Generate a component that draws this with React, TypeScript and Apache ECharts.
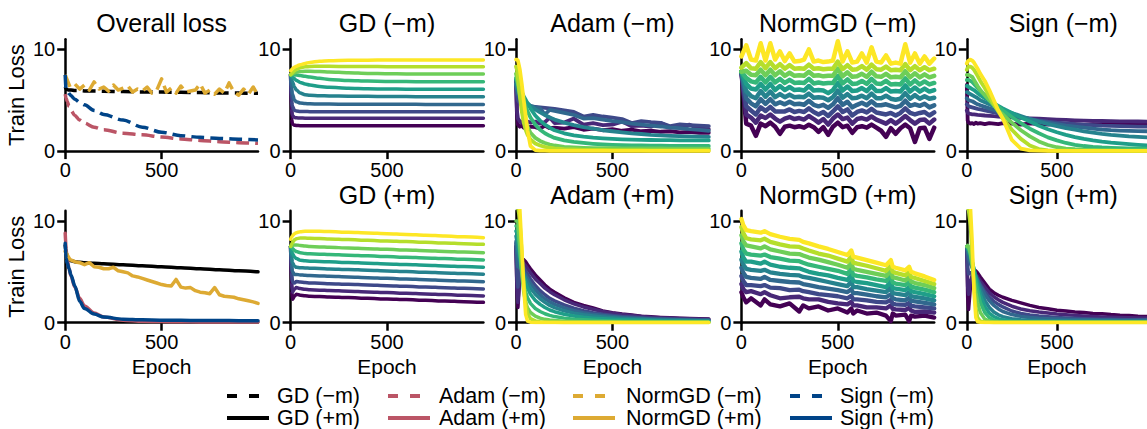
import React, { useEffect, useRef } from "react";
import * as echarts from "echarts";

const FONT = "'Liberation Sans', Arial, Helvetica, sans-serif";
const VIRIDIS = ["#440154", "#482878", "#3e4989", "#31688e", "#26828e", "#1f9e89", "#35b779", "#6ece58", "#b5de2b", "#fde725"];
const C_GD = "#000000";
const C_ADAM = "#BB5566";
const C_NORM = "#DDAA33";
const C_SIGN = "#004488";

const titlesTop = ["Overall loss", "GD (\u2212m)", "Adam (\u2212m)", "NormGD (\u2212m)", "Sign (\u2212m)"];
const titlesBottom = ["", "GD (+m)", "Adam (+m)", "NormGD (+m)", "Sign (+m)"];
const xTicks = [0, 500];
const yTicks = [0, 10];

// epoch grids
const E_S = [0, 5, 10, 20, 30, 50, 75, 100, 150, 200, 300, 400, 500, 600, 700, 800, 900, 1000];
const E_A = [0, 5, 10, 20, 30, 40, 50, 60, 75, 100, 125, 150, 175, 200, 250, 300, 350, 400, 450, 500, 550, 600, 650, 700, 750, 800, 850, 900, 950, 1000];
const E_N = [0, 25, 50, 75, 100, 125, 150, 175, 200, 225, 250, 275, 300, 325, 350, 375, 400, 425, 450, 475, 500, 525, 550, 575, 600, 625, 650, 675, 700, 725, 750, 775, 800, 825, 850, 875, 900, 925, 950, 975, 1000];
const E_P = [0, 10, 25, 50, 100, 120, 150, 200, 250, 300, 320, 350, 400, 450, 500, 550, 570, 580, 600, 650, 700, 750, 775, 785, 800, 850, 870, 880, 900, 950, 1000];

// Overall loss (-m)
const ovGdMinus = [6.3, 6.1, 6.05, 6.0, 6.0, 5.95, 5.95, 5.92, 5.9, 5.88, 5.85, 5.82, 5.8, 5.78, 5.75, 5.72, 5.7, 5.68];
const ovAdamMinus = [5.6, 5.2, 4.9, 4.4, 4.0, 3.5, 3.05, 2.75, 2.35, 2.1, 1.75, 1.6, 1.38, 1.2, 1.05, 0.93, 0.83, 0.76];
const ovSignMinus = [7.5, 6.0, 5.9, 5.65, 5.45, 5.1, 4.8, 4.55, 4.0, 3.6, 3.05, 2.35, 1.85, 1.52, 1.35, 1.25, 1.17, 1.1];
const ovNormMinus = [7.5, 6.3, 6.6, 6.1, 6.5, 6.0, 6.8, 6.1, 6.3, 5.9, 6.5, 6.0, 6.2, 6.4, 5.8, 6.1, 5.9, 6.3, 5.7, 6.0, 7.1, 5.8, 6.2, 5.7, 6.4, 5.8, 5.9, 6.0, 6.6, 5.7, 6.0, 5.6, 6.1, 5.7, 6.7, 5.8, 5.5, 6.1, 5.6, 6.3, 5.5];
// Overall loss (+m)
const ovGdPlus = [7.6, 6.9, 6.5, 6.2, 6.1, 6.0, 5.95, 5.9, 5.85, 5.8, 5.7, 5.6, 5.5, 5.4, 5.3, 5.2, 5.1, 5.0];
const ovAdamPlus = [8.8, 7.2, 6.3, 5.3, 4.6, 3.5, 2.4, 1.65, 0.95, 0.55, 0.25, 0.15, 0.11, 0.09, 0.08, 0.07, 0.07, 0.06];
const ovSignPlus = [7.8, 6.3, 5.9, 5.3, 4.7, 3.6, 2.1, 1.4, 0.85, 0.55, 0.35, 0.28, 0.25, 0.23, 0.22, 0.21, 0.2, 0.2];
const ovNormPlus = [7.0, 6.2, 6.0, 5.9, 5.7, 5.9, 5.5, 5.45, 5.3, 5.3, 5.45, 5.1, 5.0, 4.9, 4.6, 4.5, 4.35, 4.2, 4.05, 3.9, 3.75, 3.65, 3.6, 4.25, 3.5, 3.4, 3.45, 3.15, 3.0, 2.95, 2.85, 3.45, 2.75, 2.6, 2.55, 2.5, 2.35, 2.25, 2.15, 2.05, 1.9];

// GD (-m), lines purple -> yellow, on E_S
const gdMinus = [
  [7.5, 3.2, 2.65, 2.55, 2.52, 2.5, 2.5, 2.5, 2.5, 2.5, 2.5, 2.5, 2.5, 2.5, 2.49, 2.49, 2.49, 2.49],
  [7.5, 4.2, 3.5, 3.3, 3.27, 3.25, 3.24, 3.24, 3.23, 3.23, 3.23, 3.22, 3.22, 3.22, 3.22, 3.22, 3.22, 3.22],
  [7.5, 5.0, 4.4, 4.0, 3.95, 3.9, 3.9, 3.88, 3.88, 3.87, 3.87, 3.86, 3.86, 3.86, 3.86, 3.86, 3.86, 3.86],
  [7.5, 6.2, 5.6, 5.0, 4.85, 4.72, 4.68, 4.65, 4.63, 4.62, 4.61, 4.6, 4.6, 4.6, 4.59, 4.59, 4.59, 4.59],
  [7.5, 7.1, 6.8, 6.3, 6.0, 5.7, 5.55, 5.5, 5.45, 5.42, 5.4, 5.38, 5.37, 5.36, 5.35, 5.35, 5.34, 5.34],
  [7.5, 7.4, 7.3, 7.1, 6.95, 6.75, 6.6, 6.5, 6.35, 6.27, 6.18, 6.13, 6.1, 6.09, 6.08, 6.08, 6.07, 6.07],
  [7.5, 7.5, 7.5, 7.5, 7.48, 7.42, 7.35, 7.28, 7.15, 7.05, 6.95, 6.88, 6.85, 6.83, 6.82, 6.82, 6.81, 6.81],
  [7.5, 7.55, 7.6, 7.7, 7.75, 7.82, 7.85, 7.85, 7.82, 7.78, 7.7, 7.64, 7.61, 7.59, 7.58, 7.58, 7.57, 7.57],
  [7.5, 7.6, 7.7, 7.9, 8.05, 8.2, 8.28, 8.32, 8.34, 8.33, 8.32, 8.31, 8.3, 8.3, 8.29, 8.29, 8.29, 8.29],
  [7.9, 8.0, 8.1, 8.25, 8.35, 8.5, 8.62, 8.72, 8.83, 8.88, 8.92, 8.94, 8.95, 8.95, 8.95, 8.95, 8.95, 8.95],
];

// GD (+m), on E_S
const gdPlus = [
  [7.5, 3.2, 2.3, 2.6, 2.8, 2.7, 2.64, 2.6, 2.57, 2.53, 2.47, 2.4, 2.33, 2.27, 2.2, 2.13, 2.07, 2.0],
  [7.5, 4.0, 3.0, 3.3, 3.45, 3.35, 3.28, 3.23, 3.2, 3.16, 3.1, 3.03, 2.96, 2.9, 2.83, 2.76, 2.7, 2.63],
  [7.5, 5.0, 4.0, 3.9, 4.05, 4.0, 3.95, 3.91, 3.88, 3.84, 3.78, 3.71, 3.64, 3.58, 3.51, 3.44, 3.38, 3.31],
  [7.5, 5.8, 5.0, 4.75, 4.75, 4.7, 4.66, 4.63, 4.6, 4.56, 4.5, 4.43, 4.36, 4.3, 4.23, 4.16, 4.1, 4.03],
  [7.5, 6.5, 5.9, 5.55, 5.45, 5.4, 5.38, 5.36, 5.33, 5.29, 5.23, 5.16, 5.09, 5.03, 4.96, 4.89, 4.83, 4.76],
  [7.5, 7.1, 6.8, 6.45, 6.3, 6.15, 6.08, 6.05, 6.02, 5.98, 5.92, 5.85, 5.78, 5.72, 5.65, 5.58, 5.52, 5.45],
  [7.5, 7.4, 7.3, 7.1, 7.0, 6.88, 6.8, 6.77, 6.74, 6.7, 6.64, 6.57, 6.5, 6.44, 6.37, 6.3, 6.24, 6.17],
  [7.5, 7.55, 7.6, 7.65, 7.65, 7.6, 7.53, 7.48, 7.45, 7.41, 7.35, 7.28, 7.21, 7.15, 7.08, 7.01, 6.95, 6.88],
  [7.5, 7.7, 7.9, 8.15, 8.25, 8.32, 8.32, 8.3, 8.27, 8.23, 8.17, 8.1, 8.03, 7.97, 7.9, 7.83, 7.77, 7.7],
  [8.2, 8.4, 8.55, 8.75, 8.85, 8.95, 9.0, 9.0, 8.99, 8.96, 8.89, 8.82, 8.75, 8.68, 8.6, 8.52, 8.44, 8.36],
];

// Adam (-m), on E_A
const adamMinus = [
  [7.0, 3.5, 2.6, 2.4, 2.5, 2.3, 2.6, 2.3, 2.4, 2.35, 2.2, 2.5, 2.25, 2.3, 2.2, 2.35, 2.1, 2.2, 2.05, 2.15, 2.0, 2.1, 1.95, 2.0, 1.9, 1.95, 1.85, 1.88, 1.8, 1.8],
  [7.0, 4.0, 3.2, 2.9, 2.8, 3.0, 2.75, 2.9, 2.8, 2.9, 2.7, 2.85, 3.3, 2.75, 2.8, 3.2, 2.6, 2.75, 2.55, 2.6, 2.9, 2.45, 2.5, 2.4, 2.75, 2.35, 2.3, 2.6, 2.2, 2.15],
  [6.8, 5.5, 5.0, 4.7, 4.6, 4.55, 4.5, 4.45, 4.4, 4.35, 4.3, 4.25, 4.2, 4.15, 4.0, 3.85, 3.4, 3.55, 3.4, 3.3, 3.15, 2.75, 2.95, 2.85, 2.78, 2.45, 2.62, 2.55, 2.5, 2.45],
  [6.6, 6.0, 5.6, 5.2, 5.0, 4.85, 4.7, 4.6, 4.45, 4.3, 4.2, 3.6, 4.05, 3.95, 3.75, 3.55, 3.2, 3.25, 3.1, 2.95, 2.85, 2.7, 2.6, 2.5, 2.42, 2.3, 2.25, 2.15, 2.08, 2.0],
  [6.6, 6.3, 6.0, 5.6, 5.3, 5.05, 4.85, 4.7, 4.45, 4.1, 3.8, 3.55, 3.3, 3.1, 2.8, 2.55, 2.35, 2.2, 2.05, 1.95, 1.85, 1.75, 1.68, 1.6, 1.55, 1.5, 1.47, 1.44, 1.42, 1.4],
  [7.0, 6.8, 6.6, 6.2, 5.8, 5.4, 5.05, 4.7, 4.2, 3.5, 3.0, 2.6, 2.3, 2.05, 1.75, 1.55, 1.42, 1.32, 1.25, 1.2, 1.16, 1.13, 1.11, 1.09, 1.08, 1.07, 1.06, 1.06, 1.05, 1.05],
  [7.2, 7.0, 6.7, 6.1, 5.5, 4.9, 4.4, 3.9, 3.3, 2.6, 2.1, 1.75, 1.5, 1.3, 1.05, 0.9, 0.8, 0.72, 0.66, 0.62, 0.59, 0.57, 0.55, 0.54, 0.53, 0.52, 0.51, 0.5, 0.5, 0.5],
  [7.6, 7.2, 6.6, 5.5, 4.5, 3.6, 2.9, 2.4, 1.8, 1.3, 1.0, 0.8, 0.65, 0.55, 0.42, 0.36, 0.32, 0.3, 0.29, 0.28, 0.27, 0.27, 0.26, 0.26, 0.26, 0.25, 0.25, 0.25, 0.25, 0.25],
  [8.3, 8.0, 7.2, 5.4, 3.9, 2.8, 2.1, 1.6, 1.15, 0.75, 0.55, 0.42, 0.33, 0.27, 0.2, 0.16, 0.13, 0.12, 0.11, 0.1, 0.09, 0.09, 0.09, 0.08, 0.08, 0.08, 0.08, 0.08, 0.08, 0.08],
  [9.0, 9.0, 8.9, 8.0, 6.6, 5.0, 3.5, 2.0, 0.5, 0.1, 0.05, 0.04, 0.03, 0.03, 0.03, 0.02, 0.02, 0.02, 0.02, 0.02, 0.02, 0.02, 0.02, 0.02, 0.02, 0.02, 0.02, 0.02, 0.02, 0.02],
];

// Adam (+m), on E_A
const adamPlus = [
  [7.5, 3.0, 1.5, 4.5, 6.0, 6.2, 6.0, 5.7, 5.3, 4.7, 4.2, 3.7, 3.3, 3.0, 2.45, 2.0, 1.7, 1.45, 1.15, 0.98, 0.85, 0.75, 0.64, 0.58, 0.52, 0.48, 0.44, 0.41, 0.38, 0.36],
  [7.5, 3.5, 2.0, 4.8, 5.8, 5.8, 5.6, 5.3, 4.9, 4.3, 3.85, 3.4, 3.05, 2.75, 2.25, 1.85, 1.55, 1.32, 1.1, 0.93, 0.8, 0.7, 0.61, 0.54, 0.49, 0.45, 0.41, 0.38, 0.36, 0.34],
  [7.8, 5.0, 3.5, 5.0, 5.6, 5.4, 5.1, 4.8, 4.3, 3.65, 3.15, 2.75, 2.4, 2.15, 1.75, 1.42, 1.18, 0.99, 0.84, 0.72, 0.62, 0.55, 0.49, 0.44, 0.4, 0.37, 0.34, 0.32, 0.3, 0.28],
  [8.0, 6.5, 5.5, 5.4, 5.3, 5.0, 4.7, 4.35, 3.85, 3.25, 2.75, 2.35, 2.05, 1.8, 1.45, 1.18, 0.98, 0.82, 0.7, 0.6, 0.52, 0.46, 0.41, 0.37, 0.34, 0.31, 0.29, 0.27, 0.25, 0.24],
  [8.5, 8.0, 7.0, 6.0, 5.3, 4.8, 4.35, 3.95, 3.4, 2.8, 2.35, 2.0, 1.7, 1.48, 1.17, 0.94, 0.78, 0.66, 0.56, 0.48, 0.42, 0.37, 0.33, 0.3, 0.27, 0.25, 0.23, 0.21, 0.2, 0.19],
  [9.0, 8.8, 8.0, 6.5, 5.3, 4.5, 3.9, 3.4, 2.8, 2.2, 1.8, 1.5, 1.25, 1.08, 0.83, 0.66, 0.54, 0.45, 0.38, 0.33, 0.29, 0.26, 0.23, 0.21, 0.19, 0.17, 0.16, 0.15, 0.14, 0.13],
  [9.5, 9.5, 9.0, 7.0, 5.0, 3.8, 3.0, 2.45, 1.9, 1.4, 1.1, 0.88, 0.72, 0.6, 0.45, 0.35, 0.28, 0.23, 0.2, 0.17, 0.15, 0.13, 0.12, 0.11, 0.1, 0.09, 0.09, 0.08, 0.08, 0.07],
  [10.0, 10.0, 9.8, 7.5, 4.8, 3.0, 2.0, 1.45, 1.0, 0.65, 0.45, 0.33, 0.26, 0.21, 0.15, 0.11, 0.09, 0.08, 0.07, 0.06, 0.05, 0.05, 0.05, 0.04, 0.04, 0.04, 0.04, 0.04, 0.04, 0.04],
  [11.5, 11.5, 11.3, 10.0, 7.0, 4.0, 2.0, 0.9, 0.4, 0.18, 0.1, 0.07, 0.05, 0.04, 0.03, 0.03, 0.03, 0.03, 0.03, 0.03, 0.03, 0.03, 0.03, 0.03, 0.03, 0.03, 0.03, 0.03, 0.03, 0.03],
  [12.0, 12.0, 12.0, 11.2, 7.5, 3.5, 0.8, 0.15, 0.05, 0.03, 0.02, 0.02, 0.02, 0.02, 0.02, 0.02, 0.02, 0.02, 0.02, 0.02, 0.02, 0.02, 0.02, 0.02, 0.02, 0.02, 0.02, 0.02, 0.02, 0.02],
];

// NormGD (-m), on E_N
const normMinus = [
  [7.8, 2.7, 2.5, 1.5, 2.7, 2.45, 2.8, 2.4, 1.7, 2.4, 2.5, 2.35, 2.45, 2.3, 2.6, 2.35, 1.9, 2.35, 1.6, 2.4, 2.8, 2.35, 2.5, 1.8, 2.35, 2.45, 2.3, 2.6, 2.3, 2.0, 1.4, 2.25, 1.7, 2.25, 2.6, 2.25, 0.9, 2.25, 2.3, 1.2, 2.3],
  [7.8, 3.6, 3.3, 2.8, 3.5, 3.25, 3.6, 3.2, 2.9, 3.2, 3.35, 3.15, 3.25, 3.1, 3.45, 3.15, 2.8, 3.15, 2.6, 3.2, 3.6, 3.15, 3.3, 2.7, 3.15, 3.25, 3.1, 3.4, 3.1, 2.9, 2.7, 3.05, 2.7, 3.05, 3.45, 3.05, 2.7, 3.05, 3.1, 2.7, 3.1],
  [7.8, 4.4, 4.0, 3.6, 4.3, 3.95, 4.35, 3.9, 3.9, 3.9, 4.1, 3.85, 3.95, 3.85, 4.2, 3.85, 3.6, 3.85, 3.45, 3.9, 4.4, 3.85, 4.1, 3.5, 3.85, 4.0, 3.8, 4.15, 3.8, 3.7, 3.6, 3.75, 3.5, 3.75, 4.2, 3.75, 3.6, 3.75, 3.85, 3.5, 3.8],
  [7.8, 5.2, 4.7, 4.4, 5.1, 4.65, 5.1, 4.6, 4.8, 4.6, 4.85, 4.6, 4.65, 4.55, 4.95, 4.55, 4.4, 4.55, 4.25, 4.6, 5.2, 4.55, 4.85, 4.3, 4.55, 4.75, 4.5, 4.9, 4.5, 4.5, 4.6, 4.45, 4.3, 4.45, 4.95, 4.45, 4.6, 4.45, 4.65, 4.3, 4.5],
  [7.8, 5.9, 5.4, 5.2, 5.9, 5.35, 5.85, 5.3, 5.6, 5.3, 5.55, 5.3, 5.35, 5.3, 5.65, 5.25, 5.3, 5.25, 5.0, 5.3, 5.95, 5.25, 5.6, 5.2, 5.25, 5.45, 5.2, 5.65, 5.2, 5.2, 5.45, 5.15, 5.05, 5.15, 5.7, 5.15, 5.5, 5.15, 5.4, 5.15, 5.25],
  [7.8, 6.6, 6.15, 6.05, 6.6, 6.05, 6.6, 6.0, 6.4, 6.0, 6.3, 6.0, 6.05, 5.95, 6.4, 5.95, 6.0, 5.95, 5.7, 6.0, 6.7, 5.95, 6.35, 5.9, 5.95, 6.2, 5.9, 6.4, 5.9, 5.9, 6.2, 5.85, 5.9, 5.85, 6.45, 5.85, 6.25, 5.85, 6.15, 5.85, 6.0],
  [7.8, 7.2, 6.85, 6.75, 7.3, 6.75, 7.3, 6.75, 7.1, 6.7, 7.0, 6.7, 6.75, 6.7, 7.1, 6.65, 6.75, 6.65, 6.7, 6.7, 7.4, 6.65, 7.05, 6.6, 6.65, 6.9, 6.6, 7.1, 6.65, 6.6, 6.9, 6.55, 6.6, 6.55, 7.15, 6.55, 6.95, 6.55, 6.85, 6.55, 6.7],
  [7.8, 7.9, 7.5, 7.45, 8.0, 7.45, 8.0, 7.45, 7.85, 7.4, 7.7, 7.4, 7.45, 7.4, 7.8, 7.4, 7.45, 7.35, 7.4, 7.4, 8.1, 7.35, 7.75, 7.3, 7.35, 7.6, 7.3, 7.8, 7.35, 7.3, 7.6, 7.25, 7.3, 7.25, 7.85, 7.25, 7.65, 7.25, 7.55, 7.25, 7.4],
  [8.2, 8.65, 8.15, 8.1, 8.75, 8.15, 8.75, 8.15, 8.55, 8.1, 8.45, 8.1, 8.15, 8.1, 8.5, 8.1, 8.15, 8.05, 8.1, 8.1, 8.8, 8.05, 8.45, 8.0, 8.05, 8.35, 8.0, 8.5, 8.05, 8.0, 8.3, 7.95, 8.0, 7.95, 8.55, 7.95, 8.35, 7.95, 8.25, 7.95, 8.1],
  [9.3, 10.4, 9.0, 8.9, 10.6, 8.9, 10.6, 9.0, 9.8, 8.85, 9.6, 8.8, 8.85, 9.0, 10.0, 8.8, 8.9, 8.75, 8.8, 8.9, 10.8, 8.8, 9.8, 8.7, 8.8, 9.6, 8.7, 10.2, 8.8, 8.7, 9.4, 8.6, 8.7, 8.6, 10.5, 8.7, 9.6, 8.6, 9.3, 8.6, 9.1],
];

// NormGD (+m), on E_P
const normPlus = [
  [3.0, 2.5, 2.0, 2.4, 1.7, 2.3, 1.8, 1.6, 1.9, 1.1, 1.7, 1.4, 1.6, 1.2, 1.4, 1.0, 1.4, 0.9, 1.2, 0.9, 1.0, 0.7, 0.15, 0.9, 0.7, 0.8, 0.15, 0.7, 0.6, 0.7, 0.5],
  [3.8, 3.3, 3.0, 3.1, 2.8, 3.0, 2.7, 2.4, 2.5, 2.55, 2.4, 2.3, 2.3, 2.05, 1.9, 1.8, 2.05, 1.7, 1.7, 1.5, 1.5, 1.4, 1.7, 1.35, 1.3, 1.25, 1.45, 1.2, 1.05, 1.1, 1.0],
  [4.6, 4.1, 3.7, 3.7, 3.6, 3.7, 3.45, 3.4, 3.2, 3.25, 3.1, 3.0, 2.8, 2.7, 2.6, 2.4, 2.65, 2.3, 2.3, 2.2, 2.05, 2.0, 2.25, 1.85, 1.8, 1.75, 1.95, 1.65, 1.6, 1.5, 1.4],
  [5.4, 4.9, 4.5, 4.4, 4.3, 4.5, 4.2, 4.1, 4.0, 3.95, 3.8, 3.7, 3.5, 3.35, 3.2, 3.0, 3.3, 2.9, 2.9, 2.75, 2.6, 2.5, 2.8, 2.4, 2.3, 2.2, 2.45, 2.15, 2.1, 1.95, 1.8],
  [6.2, 5.7, 5.3, 5.2, 5.1, 5.2, 4.95, 4.8, 4.7, 4.65, 4.5, 4.4, 4.2, 4.0, 3.8, 3.6, 4.05, 3.5, 3.5, 3.3, 3.15, 3.0, 3.45, 2.9, 2.85, 2.7, 3.0, 2.6, 2.55, 2.4, 2.2],
  [7.0, 6.4, 6.0, 6.0, 5.8, 6.0, 5.7, 5.5, 5.4, 5.35, 5.2, 5.0, 4.8, 4.65, 4.4, 4.2, 4.7, 4.1, 4.0, 3.9, 3.7, 3.5, 4.05, 3.4, 3.35, 3.2, 3.5, 3.1, 3.0, 2.8, 2.6],
  [7.8, 7.2, 6.8, 6.7, 6.6, 6.7, 6.45, 6.3, 6.1, 6.05, 5.9, 5.7, 5.5, 5.3, 5.1, 4.8, 5.3, 4.7, 4.6, 4.45, 4.25, 4.1, 4.6, 3.95, 3.85, 3.7, 4.0, 3.55, 3.45, 3.25, 3.0],
  [8.6, 8.0, 7.6, 7.5, 7.3, 7.5, 7.2, 7.0, 6.8, 6.75, 6.6, 6.4, 6.2, 5.95, 5.7, 5.4, 5.9, 5.3, 5.2, 5.0, 4.8, 4.6, 5.1, 4.45, 4.4, 4.15, 4.5, 4.05, 3.9, 3.7, 3.4],
  [9.4, 8.8, 8.3, 8.2, 8.1, 8.25, 7.95, 7.7, 7.5, 7.45, 7.3, 7.1, 6.8, 6.6, 6.3, 6.0, 6.5, 5.9, 5.8, 5.6, 5.35, 5.1, 5.6, 5.0, 4.9, 4.65, 5.0, 4.5, 4.4, 4.1, 3.8],
  [10.2, 9.6, 9.1, 9.0, 8.85, 9.0, 8.7, 8.45, 8.25, 8.15, 7.95, 7.8, 7.5, 7.25, 6.95, 6.65, 7.1, 6.5, 6.4, 6.15, 5.9, 5.65, 6.15, 5.5, 5.4, 5.15, 5.5, 5.0, 4.85, 4.55, 4.2],
];

// Sign (-m), on E_A
const signMinus = [
  [6.5, 3.0, 2.8, 2.7, 2.75, 2.65, 2.8, 2.7, 2.75, 2.65, 2.75, 2.7, 2.65, 2.75, 2.7, 2.6, 2.72, 2.65, 2.6, 2.7, 2.62, 2.65, 2.58, 2.65, 2.6, 2.62, 2.58, 2.6, 2.62, 2.6],
  [4.0, 3.8, 3.7, 3.65, 3.62, 3.6, 3.58, 3.56, 3.54, 3.5, 3.47, 3.43, 3.4, 3.37, 3.32, 3.27, 3.22, 3.18, 3.14, 3.1, 3.06, 3.03, 3.0, 2.98, 2.96, 2.94, 2.93, 2.92, 2.91, 2.9],
  [4.6, 4.5, 4.4, 4.35, 4.3, 4.25, 4.2, 4.15, 4.1, 4.0, 3.9, 3.8, 3.7, 3.62, 3.45, 3.3, 3.15, 3.02, 2.9, 2.8, 2.72, 2.65, 2.6, 2.55, 2.5, 2.47, 2.45, 2.43, 2.41, 2.4],
  [5.2, 5.1, 5.0, 4.95, 4.9, 4.8, 4.7, 4.6, 4.5, 4.35, 4.2, 4.05, 3.9, 3.8, 3.55, 3.35, 3.15, 2.95, 2.8, 2.65, 2.5, 2.4, 2.3, 2.2, 2.12, 2.06, 2.02, 1.99, 1.97, 1.95],
  [5.8, 5.8, 5.7, 5.6, 5.5, 5.4, 5.3, 5.2, 5.0, 4.8, 4.6, 4.4, 4.2, 4.05, 3.75, 3.45, 3.15, 2.9, 2.65, 2.45, 2.25, 2.1, 1.95, 1.82, 1.7, 1.6, 1.52, 1.45, 1.4, 1.35],
  [6.4, 6.4, 6.3, 6.2, 6.1, 6.0, 5.85, 5.7, 5.5, 5.2, 4.95, 4.7, 4.45, 4.2, 3.75, 3.3, 2.9, 2.5, 2.15, 1.85, 1.6, 1.38, 1.2, 1.05, 0.93, 0.83, 0.75, 0.68, 0.62, 0.57],
  [7.0, 7.0, 7.0, 6.9, 6.8, 6.6, 6.4, 6.2, 5.9, 5.5, 5.1, 4.7, 4.35, 4.0, 3.35, 2.75, 2.2, 1.75, 1.35, 1.05, 0.8, 0.62, 0.5, 0.42, 0.36, 0.32, 0.29, 0.27, 0.26, 0.25],
  [7.5, 7.5, 7.5, 7.4, 7.3, 7.0, 6.7, 6.4, 6.0, 5.5, 5.0, 4.5, 4.0, 3.6, 2.8, 2.05, 1.45, 0.95, 0.6, 0.38, 0.25, 0.18, 0.14, 0.12, 0.1, 0.09, 0.08, 0.08, 0.07, 0.07],
  [8.0, 8.2, 8.3, 8.3, 8.2, 8.0, 7.7, 7.4, 6.9, 6.2, 5.4, 4.6, 3.9, 3.2, 2.1, 1.2, 0.55, 0.2, 0.08, 0.05, 0.04, 0.03, 0.03, 0.03, 0.03, 0.03, 0.03, 0.03, 0.03, 0.03],
  [8.6, 8.8, 8.9, 9.0, 8.9, 8.7, 8.4, 8.1, 7.6, 6.9, 6.0, 5.0, 4.0, 3.2, 1.1, 0.25, 0.08, 0.04, 0.03, 0.02, 0.02, 0.02, 0.02, 0.02, 0.02, 0.02, 0.02, 0.02, 0.02, 0.02],
];

// Sign (+m), on E_A
const signPlus = [
  [7.5, 2.5, 1.3, 3.5, 4.6, 5.0, 5.1, 4.9, 4.5, 3.9, 3.3, 2.95, 2.7, 2.5, 2.2, 1.95, 1.7, 1.5, 1.38, 1.22, 1.15, 1.05, 1.0, 0.9, 0.88, 0.8, 0.74, 0.7, 0.64, 0.6],
  [7.5, 3.5, 2.8, 4.0, 4.6, 4.8, 4.7, 4.5, 4.1, 3.5, 2.95, 2.55, 2.25, 2.0, 1.62, 1.35, 1.18, 1.05, 0.95, 0.85, 0.78, 0.72, 0.66, 0.61, 0.57, 0.53, 0.5, 0.48, 0.46, 0.45],
  [7.5, 5.5, 4.8, 4.9, 4.9, 4.7, 4.5, 4.2, 3.75, 3.05, 2.5, 2.1, 1.8, 1.55, 1.15, 0.9, 0.75, 0.65, 0.58, 0.52, 0.47, 0.43, 0.4, 0.37, 0.35, 0.33, 0.31, 0.3, 0.29, 0.28],
  [7.5, 6.8, 6.3, 5.8, 5.4, 5.0, 4.6, 4.2, 3.6, 2.8, 2.15, 1.7, 1.35, 1.1, 0.8, 0.62, 0.52, 0.45, 0.4, 0.36, 0.33, 0.31, 0.29, 0.28, 0.27, 0.26, 0.25, 0.25, 0.24, 0.24],
  [7.5, 7.2, 6.9, 6.3, 5.8, 5.2, 4.6, 4.0, 3.2, 2.2, 1.5, 1.05, 0.78, 0.6, 0.4, 0.3, 0.25, 0.22, 0.2, 0.19, 0.18, 0.17, 0.17, 0.16, 0.16, 0.16, 0.15, 0.15, 0.15, 0.15],
  [7.5, 7.3, 7.1, 6.6, 6.0, 5.3, 4.5, 3.7, 2.7, 1.6, 0.95, 0.6, 0.4, 0.28, 0.17, 0.12, 0.1, 0.09, 0.08, 0.08, 0.07, 0.07, 0.07, 0.07, 0.07, 0.07, 0.07, 0.07, 0.07, 0.07],
  [7.5, 7.4, 7.3, 6.8, 6.0, 5.0, 4.0, 3.1, 2.0, 1.0, 0.5, 0.25, 0.15, 0.1, 0.07, 0.06, 0.05, 0.05, 0.05, 0.05, 0.05, 0.05, 0.05, 0.05, 0.05, 0.05, 0.05, 0.05, 0.05, 0.05],
  [7.5, 7.6, 7.5, 6.8, 5.5, 4.2, 3.0, 2.0, 1.0, 0.35, 0.15, 0.08, 0.06, 0.05, 0.04, 0.04, 0.04, 0.04, 0.04, 0.04, 0.04, 0.04, 0.04, 0.04, 0.04, 0.04, 0.04, 0.04, 0.04, 0.04],
  [11.5, 11.5, 11.0, 9.5, 6.5, 3.5, 1.5, 0.5, 0.15, 0.06, 0.04, 0.03, 0.03, 0.03, 0.03, 0.03, 0.03, 0.03, 0.03, 0.03, 0.03, 0.03, 0.03, 0.03, 0.03, 0.03, 0.03, 0.03, 0.03, 0.03],
  [12.0, 12.0, 12.0, 11.5, 8.0, 3.0, 0.5, 0.1, 0.05, 0.03, 0.02, 0.02, 0.02, 0.02, 0.02, 0.02, 0.02, 0.02, 0.02, 0.02, 0.02, 0.02, 0.02, 0.02, 0.02, 0.02, 0.02, 0.02, 0.02, 0.02],
];

// legend
const legendLabels = [
  ["GD (\u2212m)", "Adam (\u2212m)", "NormGD (\u2212m)", "Sign (\u2212m)"],
  ["GD (+m)", "Adam (+m)", "NormGD (+m)", "Sign (+m)"],
];
const legendColors = [C_GD, C_ADAM, C_NORM, C_SIGN];

// ---- layout ----
const COL_LEFT = [65.2, 290.6, 516, 741.4, 966.8];
const ROW_TOP = [39.2, 210.8];
const GRID_W = 192.8;
const GRID_H = 111.9;

function pairs(ep: number[], v: number[]) {
  return ep.map((e, i) => [e, v[i]]);
}

function buildOption() {
  const grid: any[] = [];
  const xAxis: any[] = [];
  const yAxis: any[] = [];
  const series: any[] = [];
  const graphic: any[] = [];

  for (let r = 0; r < 2; r++) {
    for (let c = 0; c < 5; c++) {
      const idx = r * 5 + c;
      grid.push({ left: COL_LEFT[c], top: ROW_TOP[r], width: GRID_W, height: GRID_H, containLabel: false });
      xAxis.push({
        type: "value", gridIndex: idx, min: 0, max: 1000,
        axisLine: { show: true, lineStyle: { color: "#000", width: 2.5 } },
        axisTick: { show: true, inside: false, length: 8, lineStyle: { color: "#000", width: 2.5 }, customValues: xTicks },
        axisLabel: { show: true, fontSize: 20, color: "#000", fontFamily: FONT, margin: 9, customValues: xTicks },
        splitLine: { show: false },
        name: r === 1 ? "Epoch" : "",
        nameLocation: "middle",
        nameGap: 33,
        nameTextStyle: { fontSize: 21, color: "#000", fontFamily: FONT },
      });
      yAxis.push({
        type: "value", gridIndex: idx, min: 0, max: 11,
        axisLine: { show: true, lineStyle: { color: "#000", width: 2.5 } },
        axisTick: { show: true, inside: false, length: 8, lineStyle: { color: "#000", width: 2.5 }, customValues: yTicks },
        axisLabel: { show: true, fontSize: 20, color: "#000", fontFamily: FONT, margin: 10, customValues: yTicks },
        splitLine: { show: false },
        name: c === 0 ? "Train Loss" : "",
        nameLocation: "middle",
        nameGap: 38,
        nameTextStyle: { fontSize: 22, color: "#000", fontFamily: FONT },
      });
      const title = r === 0 ? titlesTop[c] : titlesBottom[c];
      if (title) {
        graphic.push({
          type: "text", x: COL_LEFT[c] + GRID_W / 2, y: ROW_TOP[r] - 15.8,
          style: { text: title, fill: "#000", font: `25px ${FONT}`, align: "center", verticalAlign: "middle", textAlign: "center", textVerticalAlign: "middle" },
        });
      }
    }
  }

  const viridisPanel = (idx: number, ep: number[], lines: number[][], smooth: boolean, width: number) => {
    lines.forEach((vals, i) => {
      series.push({
        type: "line", xAxisIndex: idx, yAxisIndex: idx, data: pairs(ep, vals),
        symbol: "none", showSymbol: false, smooth: smooth ? 0.3 : false, smoothMonotone: "x",
        lineStyle: { color: VIRIDIS[i], width, cap: "round", join: "round" },
        itemStyle: { color: VIRIDIS[i] }, silent: true, z: 2 + i,
      });
    });
  };

  const ovLine = (idx: number, ep: number[], vals: number[], color: string, dashed: boolean, smooth: boolean, z: number) => {
    series.push({
      type: "line", xAxisIndex: idx, yAxisIndex: idx, data: pairs(ep, vals),
      symbol: "none", showSymbol: false, smooth: smooth ? 0.3 : false, smoothMonotone: "x",
      lineStyle: { color, width: 3.5, type: dashed ? [13, 6] : "solid", cap: dashed ? "butt" : "round", join: "round" },
      itemStyle: { color }, silent: true, z,
    });
  };

  // overall (-m)
  ovLine(0, E_S, ovGdMinus, C_GD, true, true, 2);
  ovLine(0, E_S, ovAdamMinus, C_ADAM, true, true, 3);
  ovLine(0, E_N, ovNormMinus, C_NORM, true, false, 4);
  ovLine(0, E_S, ovSignMinus, C_SIGN, true, true, 5);
  // overall (+m)
  ovLine(5, E_S, ovGdPlus, C_GD, false, true, 2);
  ovLine(5, E_S, ovAdamPlus, C_ADAM, false, true, 3);
  ovLine(5, E_N, ovNormPlus, C_NORM, false, false, 4);
  ovLine(5, E_S, ovSignPlus, C_SIGN, false, true, 5);

  viridisPanel(1, E_S, gdMinus, true, 3.5);
  viridisPanel(2, E_A, adamMinus, false, 3.8);
  viridisPanel(3, E_N, normMinus, false, 4.5);
  viridisPanel(4, E_A, signMinus, false, 3.8);
  viridisPanel(6, E_S, gdPlus, true, 3.5);
  viridisPanel(7, E_A, adamPlus, false, 3.5);
  viridisPanel(8, E_P, normPlus, false, 4.3);
  viridisPanel(9, E_A, signPlus, false, 3.5);

  // legend
  const lineX = [227, 388, 573, 790];
  const textX = [277, 439, 626, 840];
  const rowY = [396, 418];
  for (let r = 0; r < 2; r++) {
    for (let k = 0; k < 4; k++) {
      graphic.push({
        type: "line",
        shape: { x1: lineX[k], y1: rowY[r], x2: lineX[k] + 42, y2: rowY[r] },
        style: { stroke: legendColors[k], lineWidth: 4, lineDash: r === 0 ? [10, 12] : null, lineCap: "butt" },
      });
      graphic.push({
        type: "text", x: textX[k], y: rowY[r],
        style: { text: legendLabels[r][k], fill: "#000", font: `21.5px ${FONT}`, align: "left", verticalAlign: "middle", textAlign: "left", textVerticalAlign: "middle" },
      });
    }
  }

  return {
    animation: false,
    backgroundColor: "#ffffff",
    grid, xAxis, yAxis, series, graphic,
  };
}

export default function App() {
  const ref = useRef<HTMLDivElement>(null);
  useEffect(() => {
    if (!ref.current) return;
    const chart = echarts.init(ref.current, null, { renderer: "svg" });
    chart.setOption(buildOption() as any);
    return () => chart.dispose();
  }, []);
  return (
    <div
      ref={ref}
      style={{ position: "fixed", left: 0, top: 0, width: 1147, height: 429, background: "#fff" }}
    />
  );
}
